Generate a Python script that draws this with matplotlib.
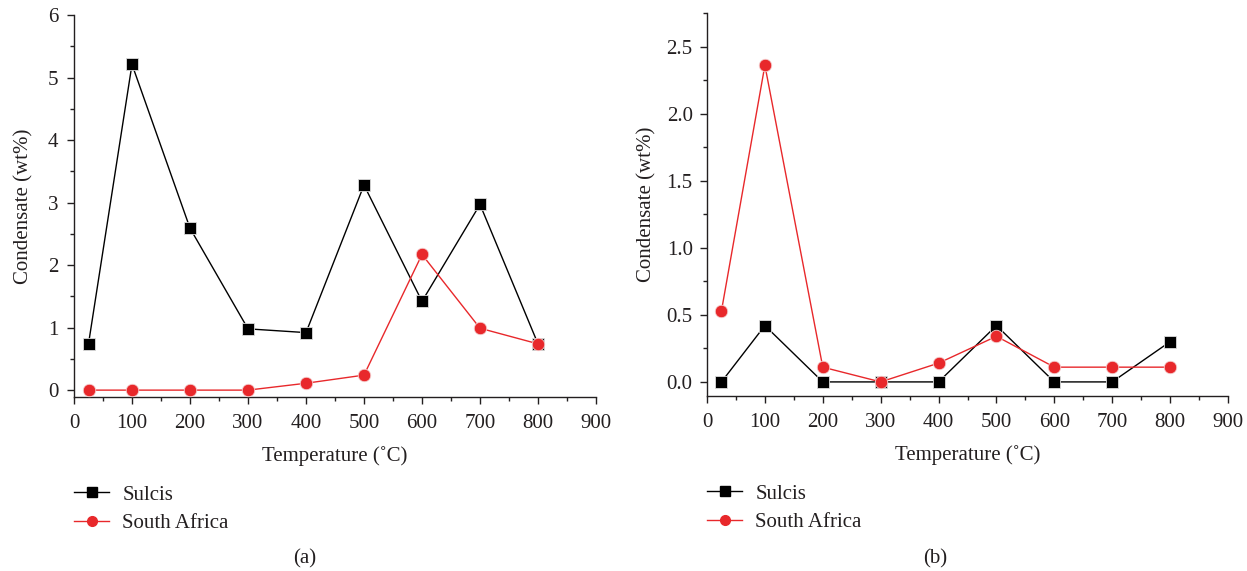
import matplotlib
matplotlib.use("Agg")
import matplotlib.pyplot as plt
from matplotlib.ticker import MultipleLocator, FormatStrFormatter
from matplotlib.lines import Line2D

plt.rcParams['font.family'] = ['Liberation Serif', 'DejaVu Serif']
plt.rcParams['font.size'] = 15

temps = [25, 100, 200, 300, 400, 500, 600, 700, 800]
sulcis_a = [0.74, 5.21, 2.59, 0.98, 0.92, 3.28, 1.42, 2.97, 0.74]
safrica_a = [0.0, 0.0, 0.0, 0.0, 0.11, 0.24, 2.17, 0.99, 0.74]
sulcis_b = [0.0, 0.42, 0.0, 0.0, 0.0, 0.42, 0.0, 0.0, 0.30]
safrica_b = [0.53, 2.36, 0.11, 0.0, 0.14, 0.34, 0.11, 0.11, 0.11]

series_names = ["Sulcis", "South Africa"]
xlabel = "Temperature (˚C)"
ylabel = "Condensate (wt%)"
panel_labels = ["(a)", "(b)"]

RED = '#e8282b'
TXT = '#231f20'
W, H = 1247, 571
FS = 15

fig = plt.figure(figsize=(W / 100, H / 100), dpi=100)

def px_axes(x0, x1, y0, y1):
    return fig.add_axes([x0 / W, 1 - y1 / H, (x1 - x0) / W, (y1 - y0) / H])

axA = px_axes(74, 596, 15, 397)
axB = px_axes(707, 1228, 13, 396)

def style(ax, ymin, ymax, ymaj, ymin_step, fmt, ylab_x, ypad):
    ax.set_xlim(0, 900)
    ax.set_ylim(ymin, ymax)
    ax.xaxis.set_major_locator(MultipleLocator(100))
    ax.xaxis.set_minor_locator(MultipleLocator(50))
    ax.yaxis.set_major_locator(MultipleLocator(ymaj))
    ax.yaxis.set_minor_locator(MultipleLocator(ymin_step))
    ax.yaxis.set_major_formatter(FormatStrFormatter(fmt))
    for s in ['top', 'right']:
        ax.spines[s].set_visible(False)
    for s in ['left', 'bottom']:
        ax.spines[s].set_linewidth(1.0)
        ax.spines[s].set_color(TXT)
    ax.tick_params(which='major', direction='out', length=5.3, width=1.0, colors=TXT,
                   labelsize=FS, labelcolor=TXT)
    ax.tick_params(axis='y', which='major', pad=ypad)
    ax.tick_params(axis='x', which='major', pad=7)
    ax.tick_params(which='minor', direction='out', length=3.2, width=1.0, colors=TXT)
    ax.set_xlabel(xlabel, fontsize=FS, color=TXT, va='top')
    ax.xaxis.set_label_coords(0.5, -0.128)
    ax.set_ylabel(ylabel, fontsize=FS, color=TXT)
    ax.yaxis.set_label_coords(ylab_x, 0.5)

def draw(ax, s, r):
    ax.plot(temps, s, color='black', lw=1.0, marker='s', ms=9, mfc='black',
            mec='#dddddd', mew=0.6, zorder=3, clip_on=False)
    ax.plot(temps, r, color=RED, lw=1.0, marker='o', ms=9, mfc=RED,
            mec='#f5d0d0', mew=0.6, zorder=4, clip_on=False)

draw(axA, sulcis_a, safrica_a)
draw(axB, sulcis_b, safrica_b)

style(axA, -0.11, 6.0, 1, 0.5, '%d', -0.078, 6)
style(axB, -0.105, 2.75, 0.5, 0.25, '%.1f', -0.097, 5)

handles = [Line2D([], [], color='black', lw=1.0, marker='s', ms=6.5, mfc='black', mec='black'),
           Line2D([], [], color=RED, lw=1.0, marker='o', ms=7, mfc=RED, mec=RED)]

for lx, ly in [(74, 485), (707, 484)]:
    fig.legend(handles, series_names, loc='upper left',
               bbox_to_anchor=(lx / W, 1 - ly / H), frameon=False,
               handlelength=1.7, handletextpad=0.62, labelspacing=0.42,
               fontsize=FS, labelcolor=TXT, borderpad=0, borderaxespad=0)

fig.text(305 / W, 1 - 559 / H, panel_labels[0], ha='center', va='center', fontsize=FS, color=TXT)
fig.text(935 / W, 1 - 559 / H, panel_labels[1], ha='center', va='center', fontsize=FS, color=TXT)

fig.savefig('out.png', dpi=100)
